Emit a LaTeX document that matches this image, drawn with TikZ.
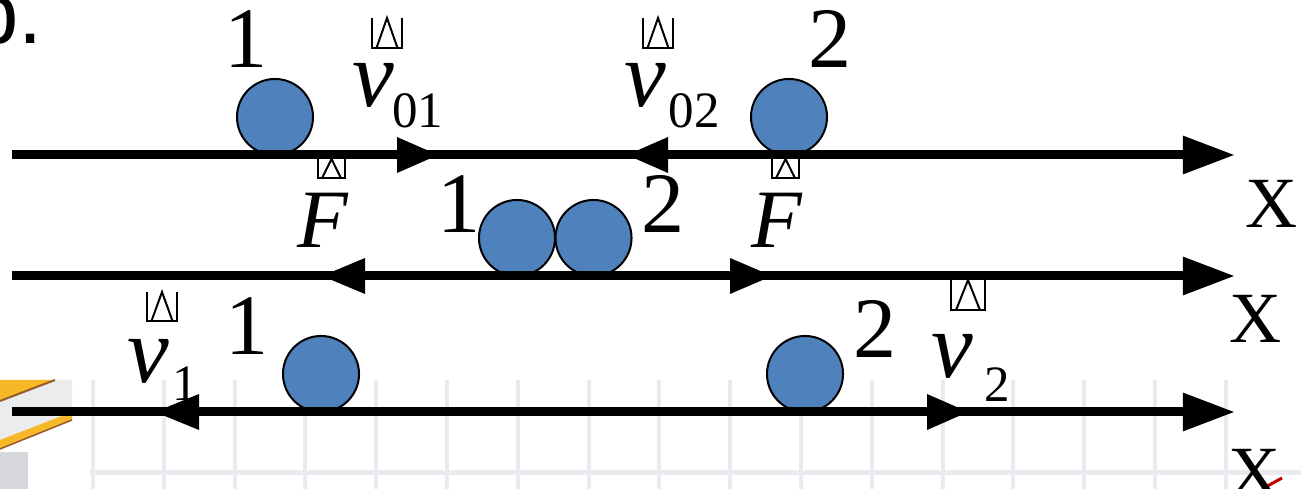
\documentclass[tikz,border=0pt]{standalone}
\usepackage{fontspec}
\setmainfont{Liberation Serif}
\newfontfamily\labelsans{Liberation Sans}
\usetikzlibrary{arrows.meta}
\definecolor{ballblue}{HTML}{4F81BD}
\definecolor{gridgray}{RGB}{236,233,241}
\definecolor{pencilyellow}{RGB}{246,184,40}
\definecolor{pencilbrown}{RGB}{150,90,40}
\definecolor{pencilgray}{RGB}{214,216,220}
\newcommand\vecglyph[4]{%
  \draw[glyph] (#1,#2) -- (#1,#4) -- (#3,#4) -- (#3,#2);
  \draw[glyph] ({#1+0.15*(#3-#1)},#4) -- ({0.5*(#1+#3)},#2) -- ({#3-0.15*(#3-#1)},#4);}
\begin{document}
\begin{tikzpicture}[x=0.01cm,y=-0.01cm,
  axis/.style={line width=0.09cm,-{Triangle[length=0.52cm,width=0.36cm]}},
  ball/.style={circle,draw=black,line width=0.02cm,fill=ballblue,minimum size=0.76cm,inner sep=0},
  glyph/.style={draw=black,line width=0.02cm},
  num/.style={inner sep=0,anchor=base,font=\fontsize{24.5pt}{28pt}\selectfont},
  vel/.style={inner sep=0,anchor=base,font=\fontsize{26.7pt}{30pt}\selectfont\itshape},
  sub/.style={inner sep=0,anchor=base,font=\fontsize{14.5pt}{17pt}\selectfont},
  force/.style={inner sep=0,anchor=base,font=\fontsize{23.6pt}{27pt}\selectfont\itshape},
  axlbl/.style={inner sep=0,anchor=base,font=\fontsize{20.5pt}{24pt}\selectfont}]
\path[use as bounding box] (0,0) rectangle (1301,489);
\clip (0,0) rectangle (1301,489);
% background sheet (grid and pencil)
\foreach \gx in {93,164,235,305,376,447,518,589,659,730,801,872,943,1013,1084,1155,1226}
  \draw[gridgray,line width=0.04cm] (\gx,380) -- (\gx,489);
\draw[gridgray,line width=0.05cm] (90,473) -- (1301,473);
\fill[pencilgray] (0,452) rectangle (28,489);
\fill[pencilgray!50] (0,402) -- (55,380) -- (72,380) -- (72,412) -- (0,440) -- cycle;
\fill[pencilyellow] (0,380) -- (55,380) -- (0,400) -- cycle;
\draw[pencilbrown,line width=0.02cm] (0,401) -- (55,380);
\fill[pencilyellow] (0,440) -- (72,412) -- (72,420) -- (0,449) -- cycle;
\draw[pencilbrown,line width=0.015cm] (0,449) -- (72,420);
\draw[red!75!black,line width=0.03cm] (1262,489) -- (1282,478);
% cut-off item label
\node[inner sep=0,anchor=base west,font=\labelsans\fontsize{24.7pt}{28pt}\selectfont] (item) at (-30,44) {b.};
% labels, row 1
\node[num] (n11) at (246.5,68) {1};
\node[num] (n12) at (830,68) {2};
\node[vel] (v01) at (373,107) {v};
\node[sub] (s01) at (417.5,128) {01};
\node[vel] (v02) at (645,107) {v};
\node[sub] (s02) at (694,128) {02};
\node[axlbl] (X1) at (1272,228) {X};
% labels, row 2
\node[force] (F1) at (322.5,248) {F};
\node[force] (F2) at (776.5,248) {F};
\node[num] (n21) at (459,233) {1};
\node[num] (n22) at (663.5,233) {2};
\node[axlbl] (X2) at (1256,343) {X};
% labels, row 3
\node[num] (n31) at (247.5,355) {1};
\node[num] (n32) at (875,358) {2};
\node[vel] (v1) at (148.5,383) {v};
\node[sub] (s1) at (185,401) {1};
\node[vel] (v2) at (952.5,378) {v};
\node[sub] (s2) at (997.5,402) {2};
\node[axlbl] (X3) at (1255,497) {X};
% balls
\node[ball] (b11) at (275,117) {};
\node[ball] (b12) at (789,117) {};
\node[ball] (b21) at (517,238) {};
\node[ball] (b22) at (593.5,238) {};
\node[ball] (b31) at (321,374) {};
\node[ball] (b32) at (805,374) {};
% axes
\coordinate (L1s) at (12,155); \coordinate (L1e) at (1235,155);
\coordinate (L2s) at (12,276); \coordinate (L2e) at (1235,276);
\coordinate (L3s) at (12,412); \coordinate (L3e) at (1235,412);
\draw[axis] (L1s) -- (L1e);
\draw[axis] (L2s) -- (L2e);
\draw[axis] (L3s) -- (L3e);
% direction arrowheads on the axes
\fill (397,137) -- (438,155) -- (397,173) -- cycle;
\fill (668,137) -- (627,155) -- (668,173) -- cycle;
\fill (365,258) -- (322,276) -- (365,294) -- cycle;
\fill (730,258) -- (772,276) -- (730,294) -- cycle;
\fill (199,394) -- (155,412) -- (199,430) -- cycle;
\fill (927,394) -- (968,412) -- (927,430) -- cycle;
% vector-mark glyph boxes
\vecglyph{372}{18}{402}{48}
\vecglyph{643}{18}{673}{48}
\vecglyph{318}{159}{345}{178}
\vecglyph{772}{159}{799}{178}
\vecglyph{147}{292}{177}{321}
\vecglyph{951}{280}{985}{310}
\end{tikzpicture}
\end{document}
